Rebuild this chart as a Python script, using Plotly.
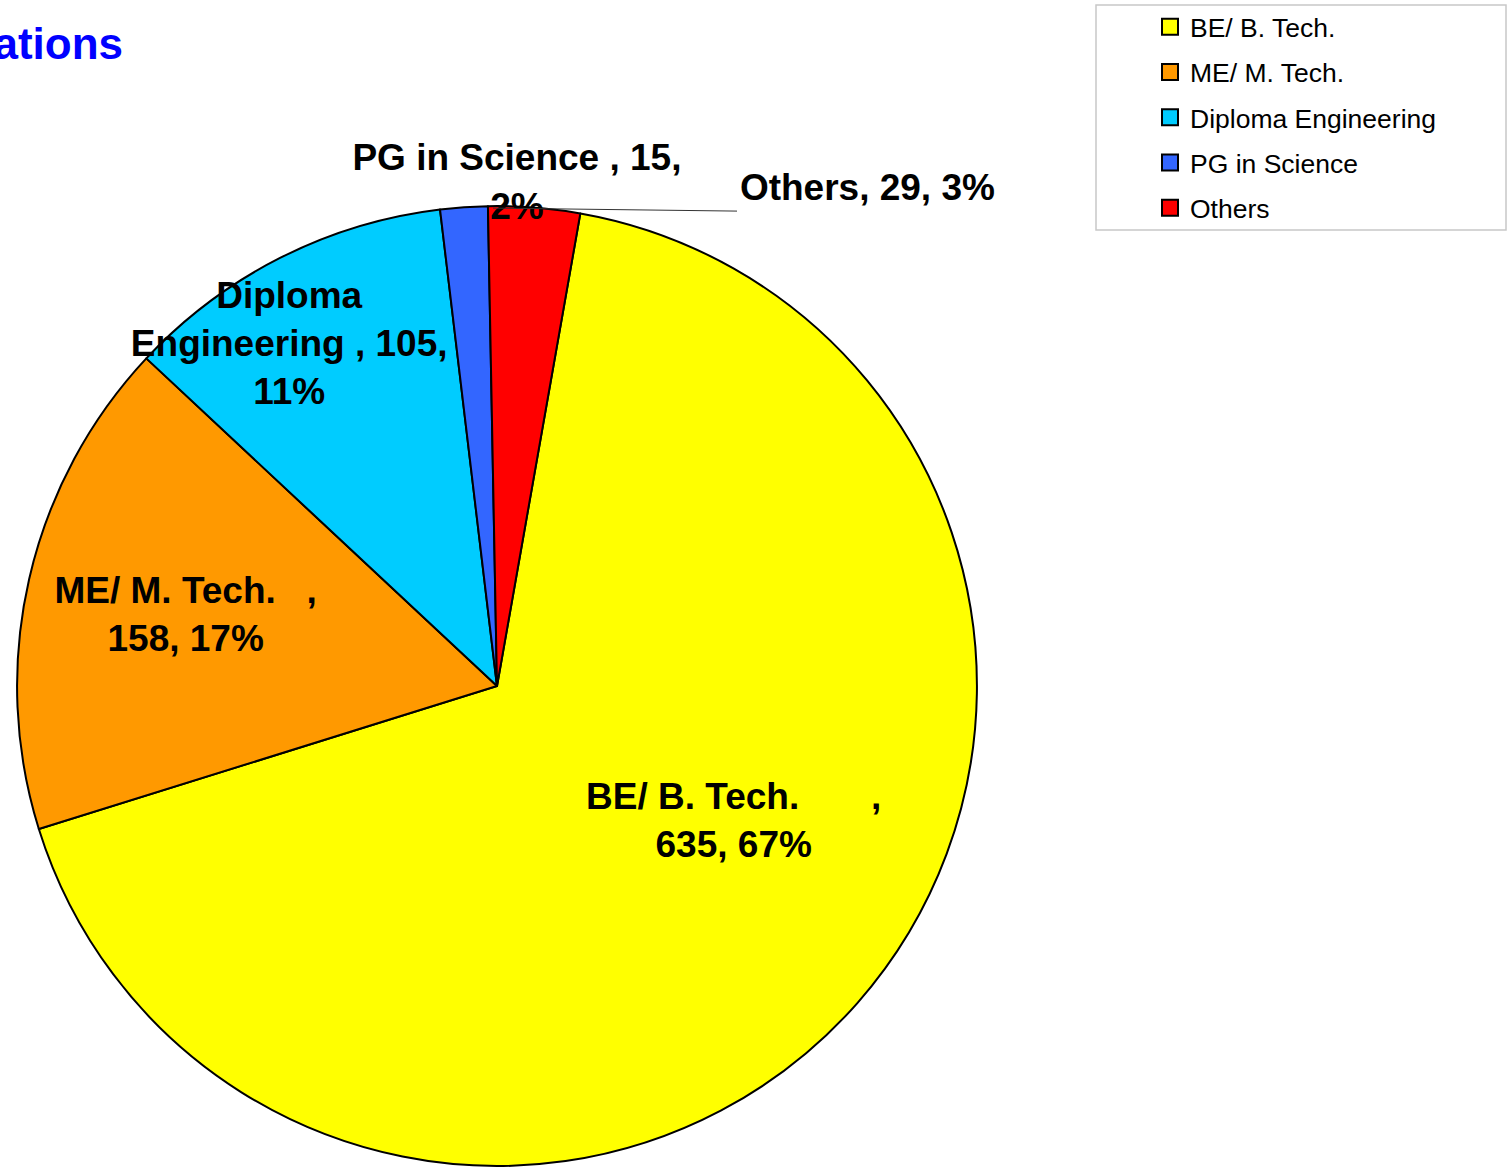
import plotly.graph_objects as go

# Qualification split of candidates
categories = ["BE/ B. Tech.", "ME/ M. Tech.", "Diploma Engineering", "PG in Science", "Others"]
counts = [635, 158, 105, 15, 29]
colors = ["#FFFF00", "#FF9900", "#00CCFF", "#3366FF", "#FF0000"]

W, H = 1507, 1171
NB = "\u00a0"
PCT = "%{percent:.0%}"
FONT = "Arial, Liberation Sans"


def pad_lines(lines, lead=0, trail=0, extra_lines=0):
    # non-breaking spaces / blank lines nudge the label the way Excel placed it
    out = [NB * lead + ln + NB * trail for ln in lines] + [NB] * extra_lines
    return "<br>".join(out)


diploma_first, diploma_rest = categories[2].split(" ", 1)
text_templates = [
    pad_lines(["%{label}" + NB * 7 + ",", "%{value}, " + PCT], lead=11, extra_lines=1),
    pad_lines(["%{label}" + NB * 3 + ",", "%{value}, " + PCT]),
    pad_lines([diploma_first, diploma_rest + " , %{value},", PCT], trail=9, extra_lines=1),
    pad_lines(["%{label} , %{value},", PCT], lead=10, extra_lines=2),
    NB * 19 + "%{label}, %{value}, " + PCT,
]
text_positions = ["inside", "inside", "inside", "inside", "outside"]

pie_domain = dict(x=[14 / W, 980 / W], y=[0, 1 - 207 / H])

fig = go.Figure()

# slices
fig.add_trace(
    go.Pie(
        labels=categories,
        values=counts,
        sort=False,
        direction="clockwise",
        rotation=10,
        marker=dict(colors=colors, line=dict(color="black", width=2)),
        textinfo="none",
        domain=pie_domain,
        showlegend=False,
        hoverinfo="label+value+percent",
    )
)

# same pie again, transparent, carrying the labels so they sit above every slice
fig.add_trace(
    go.Pie(
        labels=categories,
        values=counts,
        sort=False,
        direction="clockwise",
        rotation=10,
        marker=dict(colors=["rgba(0,0,0,0)"] * len(categories), line=dict(width=0)),
        texttemplate=text_templates,
        textposition=text_positions,
        insidetextorientation="horizontal",
        textfont=dict(family=FONT, size=37, color="black", weight="bold"),
        domain=pie_domain,
        showlegend=False,
        hoverinfo="skip",
    )
)

# legend entries (separate groups so the item spacing can be opened up)
for name, c in zip(categories, colors):
    fig.add_trace(
        go.Scatter(
            x=[None], y=[None], mode="markers", name=name, legendgroup=name,
            marker=dict(symbol="square", size=16, color=c, line=dict(color="black", width=2)),
        )
    )

fig.update_layout(
    width=W,
    height=H,
    margin=dict(l=0, r=0, t=0, b=0),
    paper_bgcolor="white",
    plot_bgcolor="white",
    title=dict(
        text="Educational Qualifications",
        font=dict(family=FONT, size=44, color="#0000FF", weight="bold"),
        x=123 / W, xanchor="right", y=1 - 44 / H, yanchor="middle",
    ),
    uniformtext=dict(minsize=37, mode="show"),
    xaxis=dict(visible=False),
    yaxis=dict(visible=False),
    legend=dict(
        x=1150 / W, xanchor="left", y=1 - 3 / H, yanchor="top",
        font=dict(family=FONT, size=26.5, color="black"),
        bgcolor="rgba(0,0,0,0)", borderwidth=0, tracegroupgap=7.8,
    ),
    shapes=[
        # legend frame
        dict(type="rect", xref="paper", yref="paper",
             x0=1096 / W, x1=1506 / W, y0=1 - 231 / H, y1=1 - 5 / H,
             line=dict(color="#C8C8C8", width=1.5), fillcolor="rgba(0,0,0,0)"),
        # leader line to the "Others" label
        dict(type="line", xref="paper", yref="paper",
             x0=493 / W, y0=1 - 209 / H, x1=737 / W, y1=1 - 212 / H,
             line=dict(color="#333333", width=1)),
    ],
)

fig.write_html(
    "out.html",
    config={"displayModeBar": False},
    post_script="document.body.style.margin='0';",
)
